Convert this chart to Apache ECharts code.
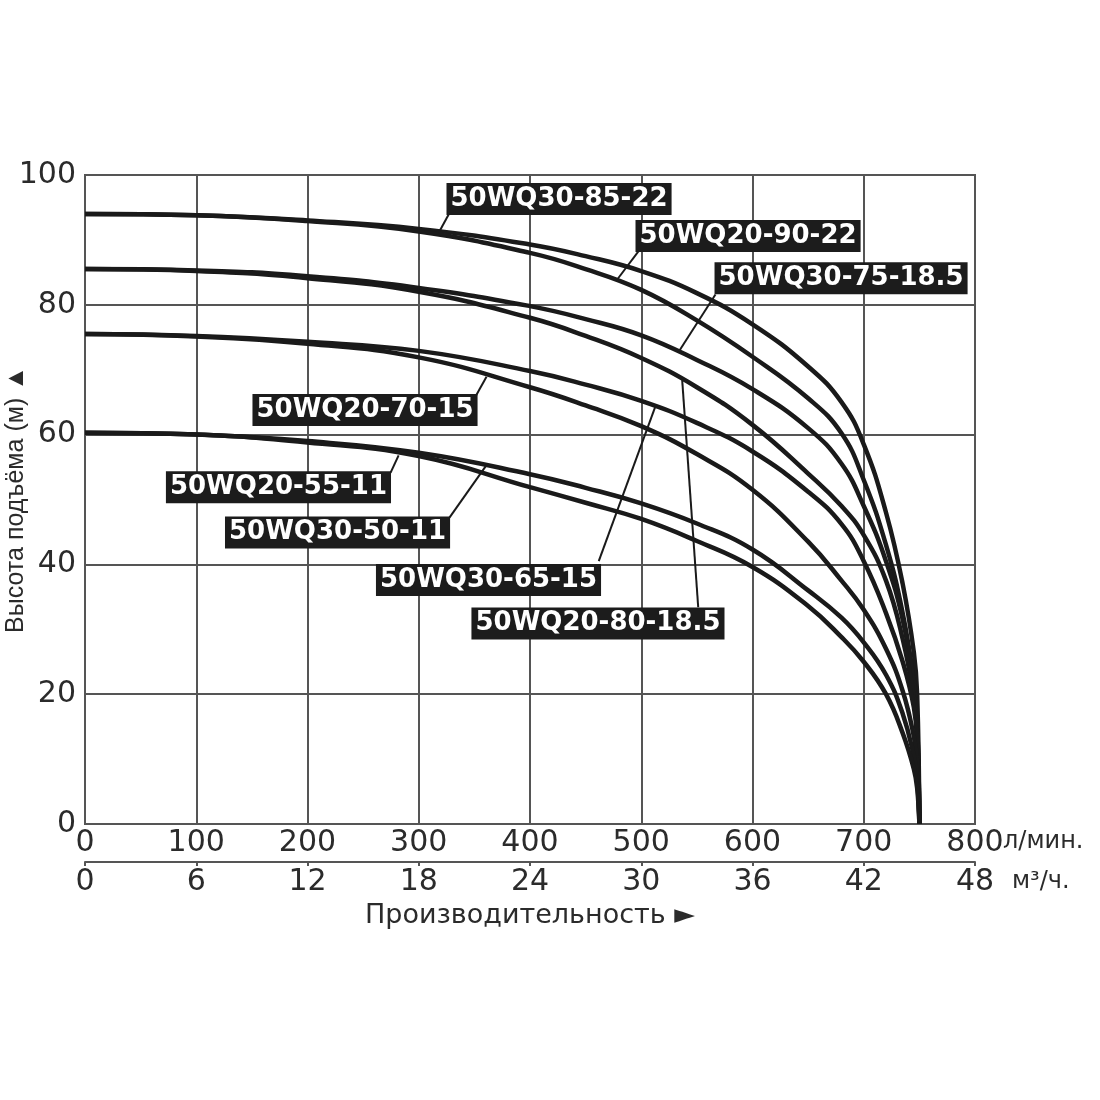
<!DOCTYPE html>
<html><head><meta charset="utf-8">
<script src="https://cdn.jsdelivr.net/npm/echarts@6/dist/echarts.min.js"></script>
<style>html,body{margin:0;padding:0;background:#fff}#c{width:1100px;height:1100px}</style>
</head><body><div id="c"></div>
<script>
// ---- data ----
const flowLmin = [0,100,200,300,400,450,500,550,600,650,680,700,720,735,745,748,750];
const flowTicks = [0,100,200,300,400,500,600,700,800];
const cubicTicks = [0,6,12,18,24,30,36,42,48];
const headTicks = [0,20,40,60,80,100];

const models = ['50WQ30-85-22','50WQ20-90-22','50WQ30-75-18.5','50WQ20-80-18.5','50WQ30-65-15','50WQ20-70-15','50WQ30-50-11','50WQ20-55-11'];
const head_30_85_22  = [94,93.8,93.0,91.7,89.3,87.5,85.2,81.8,77.0,70.5,65.0,58.5,48.0,37.0,26.5,20.0,0];
const head_20_90_22  = [94,93.8,92.9,91.3,88.0,85.5,82.3,77.6,72.0,65.6,60.2,53.0,43.0,32.5,22.0,15.5,0];
const head_30_75_185 = [85.5,85.3,84.4,82.6,79.8,77.8,75.3,71.5,67.0,61.0,55.5,49.0,40.5,31.5,21.5,15.0,0];
const head_20_80_185 = [85.5,85.2,84.1,82.0,78.0,75.2,71.8,67.3,61.5,54.0,49.0,44.5,37.5,28.5,19.5,13.5,0];
const head_30_65_15  = [75.5,75.2,74.3,72.9,69.8,67.7,65.2,61.8,57.4,51.2,46.2,40.5,32.5,25.0,18.0,12.5,0];
const head_20_70_15  = [75.5,75.1,74.0,71.9,67.3,64.5,61.3,57.0,51.5,43.5,37.5,33.0,27.0,20.5,13.5,9.5,0];
const head_30_50_11  = [60.3,60.0,59.0,57.2,53.9,51.8,49.4,46.3,42.3,36.0,31.8,28.0,23.0,17.0,10.5,7.0,0];
const head_20_55_11  = [60.3,60.0,58.8,56.7,51.9,49.5,47.0,43.6,39.6,33.6,28.8,25.0,20.0,14.0,8.5,5.5,0];
const heads = [head_30_85_22,head_20_90_22,head_30_75_185,head_20_80_185,head_30_65_15,head_20_70_15,head_30_50_11,head_20_55_11];

// label box centres (data coords) and leader lines (from label to curve)
const labelQ = [426.1,596.0,679.6,461.1,362.7,251.7,227.0,173.9];
const labelH = [96.3,90.6,84.1,30.9,37.6,63.8,44.9,51.9];
const leaderFromQ = [327.0,497.8,566.7,551.2,461.8,351.4,327.6,274.6];
const leaderFromH = [93.95,88.3,81.6,33.4,40.5,66.0,47.2,54.1];
const leaderToQ   = [318.9,478.4,533.8,536.8,512.8,360.9,360.9,281.9];
const leaderToH   = [91.4,83.9,72.8,68.4,64.4,68.9,55.3,56.8];

// ---- chart ----
const chart = echarts.init(document.getElementById('c'));
const axisTextColor = '#2b2b2b';
const gridColor = '#555';

const series = models.map((m, i) => ({
  name: m,
  type: 'line',
  xAxisIndex: 0,
  yAxisIndex: 0,
  data: flowLmin.map((q, k) => [q, heads[i][k]]),
  smooth: 0.45,
  symbol: 'none',
  lineStyle: { color: '#1a1a1a', width: 4.5 },
  z: 3,
  markLine: {
    silent: true,
    symbol: ['none', 'none'],
    animation: false,
    label: { show: false },
    lineStyle: { color: '#1a1a1a', width: 2, type: 'solid' },
    data: [[{ coord: [leaderFromQ[i], leaderFromH[i]] }, { coord: [leaderToQ[i], leaderToH[i]] }]]
  },
  markPoint: {
    silent: true,
    animation: false,
    symbol: 'rect',
    symbolSize: 1,
    itemStyle: { color: 'rgba(0,0,0,0)' },
    z: 10,
    label: {
      show: true,
      position: 'inside',
      formatter: m,
      color: '#fff',
      backgroundColor: '#1c1c1c',
      fontFamily: 'DejaVu Sans',
      fontWeight: 'bold',
      fontSize: 26,
      lineHeight: 26,
      padding: [3, 4, 3, 4]
    },
    data: [{ coord: [labelQ[i], labelH[i]] }]
  }
}));

const option = {
  animation: false,
  backgroundColor: '#fff',
  grid: { left: 85, right: 125, top: 175, bottom: 276, containLabel: false, outerBoundsMode: 'none',
          show: true, borderColor: gridColor, borderWidth: 2 },
  xAxis: [
    {
      type: 'value', position: 'bottom',
      min: flowTicks[0], max: flowTicks[flowTicks.length - 1], interval: flowTicks[1] - flowTicks[0],
      axisLine: { show: true, lineStyle: { color: gridColor, width: 2 } },
      axisTick: { show: false },
      splitLine: { show: true, lineStyle: { color: gridColor, width: 2 } },
      axisLabel: { color: axisTextColor, fontFamily: 'DejaVu Sans', fontSize: 30, margin: 4 }
    },
    {
      type: 'value', position: 'bottom', offset: 38,
      min: cubicTicks[0], max: cubicTicks[cubicTicks.length - 1], interval: cubicTicks[1] - cubicTicks[0],
      axisLine: { show: true, onZero: false, lineStyle: { color: gridColor, width: 2 } },
      axisTick: { show: true, length: 4, lineStyle: { color: gridColor, width: 2 } },
      splitLine: { show: false },
      axisLabel: { color: axisTextColor, fontFamily: 'DejaVu Sans', fontSize: 30, margin: 5 },
      name: 'Производительность ►', nameLocation: 'middle', nameGap: 40, nameMoveOverlap: false,
      nameTextStyle: { color: axisTextColor, fontFamily: 'DejaVu Sans', fontSize: 27 }
    }
  ],
  yAxis: {
    type: 'value',
    min: headTicks[0], max: headTicks[headTicks.length - 1], interval: headTicks[1] - headTicks[0],
    axisLine: { show: true, lineStyle: { color: gridColor, width: 2 } },
    axisTick: { show: false },
    splitLine: { show: true, lineStyle: { color: gridColor, width: 2 } },
    axisLabel: { color: axisTextColor, fontFamily: 'DejaVu Sans', fontSize: 30, margin: 9 },
    name: 'Высота подъёма (м) ▲', nameLocation: 'middle', nameGap: 56, nameMoveOverlap: false,
    nameTextStyle: { color: axisTextColor, fontFamily: 'Liberation Sans', fontSize: 25 }
  },
  graphic: [
    { type: 'text', left: 1003, top: 830, style: { text: 'л/мин.', fill: axisTextColor, font: '24px "DejaVu Sans"' } },
    { type: 'text', left: 1012, top: 870, style: { text: 'м³/ч.', fill: axisTextColor, font: '24px "DejaVu Sans"' } }
  ],
  series: series
};
chart.setOption(option);
</script>
</body></html>
